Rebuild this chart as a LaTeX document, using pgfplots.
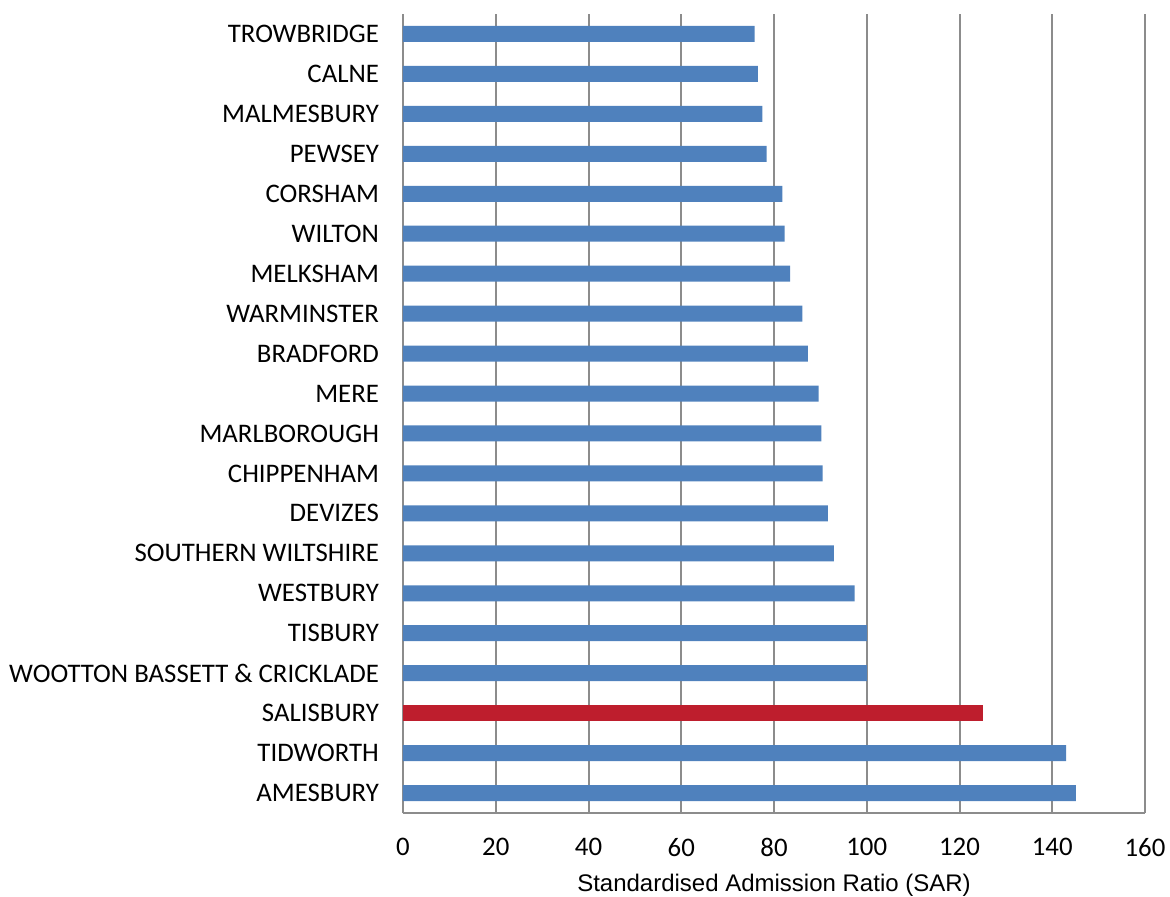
\documentclass[border=0pt]{standalone}
\usepackage{pgfplots}
\pgfplotsset{compat=1.18}
\usepackage{fontspec}
\setmainfont{Carlito}
\newfontfamily\arialfont{Liberation Sans}

\definecolor{barblue}{HTML}{4F81BD}
\definecolor{barred}{HTML}{BE1E2D}
\definecolor{gridgray}{HTML}{8C8C8C}

\begin{document}
\begin{tikzpicture}
\begin{axis}[
  name=ax,
  at={(0,0)}, anchor=south west,
  scale only axis,
  width=371pt, height=399.5pt,
  xbar, bar width=8pt, bar shift=0pt,
  xmin=0, xmax=160,
  ymin=-0.5, ymax=19.5,
  xtick={0,20,...,160},
  ytick={0,...,19},
  yticklabels={AMESBURY,TIDWORTH,SALISBURY,WOOTTON BASSETT \& CRICKLADE,TISBURY,WESTBURY,SOUTHERN WILTSHIRE,DEVIZES,CHIPPENHAM,MARLBOROUGH,MERE,BRADFORD,WARMINSTER,MELKSHAM,WILTON,CORSHAM,PEWSEY,MALMESBURY,CALNE,TROWBRIDGE},
  axis x line*=bottom, axis y line*=left,
  axis line style={gridgray, line width=1pt},
  xmajorgrids,
  major grid style={gridgray, line width=1pt},
  major tick length=0pt,
  tick style={draw=none},
  /pgf/number format/assume math mode=true,
  ticklabel style={font=\fontsize{13.4}{15}\selectfont, text=black},
  xticklabel style={yshift=-9pt},
  yticklabel style={xshift=-8.5pt},
  clip=false,
]
\addplot[draw=none, fill=barblue] coordinates {
  (145.1,0) (143.0,1) (100.0,3) (100.0,4) (97.4,5) (92.9,6) (91.6,7)
  (90.5,8) (90.2,9) (89.6,10) (87.3,11) (86.1,12) (83.5,13) (82.3,14)
  (81.8,15) (78.4,16) (77.5,17) (76.5,18) (75.8,19)
};
\addplot[draw=none, fill=barred] coordinates {(125.1,2)};
\end{axis}
\node[anchor=base, font=\arialfont\fontsize{12}{14}\selectfont]
  at ([yshift=-39.3pt]ax.south) {Standardised Admission Ratio (SAR)};
\pgfresetboundingbox
\path ([shift={(-201.5pt,-41.5pt)}]ax.south west) rectangle ([shift={(12.5pt,7pt)}]ax.north east);
\end{tikzpicture}
\end{document}
